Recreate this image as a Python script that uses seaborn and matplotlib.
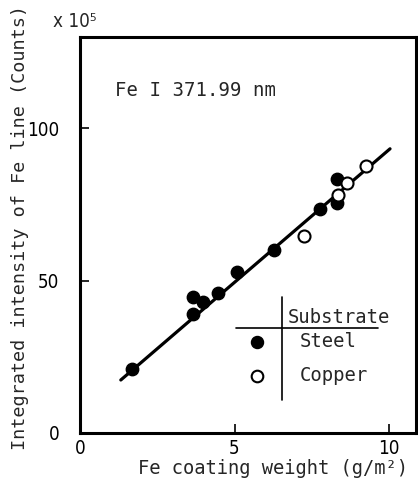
import matplotlib
matplotlib.use("Agg")
import matplotlib.pyplot as plt
import seaborn as sns
import pandas as pd
from matplotlib.font_manager import FontProperties

# ---- data ----
steel_x = [1.67, 3.67, 3.67, 3.97, 4.48, 5.09, 6.26, 7.75, 8.31, 8.31]
steel_y = [20.9, 44.7, 39.2, 43.0, 46.1, 52.9, 60.0, 73.4, 83.5, 75.5]
copper_x = [7.26, 8.36, 8.63, 9.26]
copper_y = [64.6, 78.0, 82.2, 87.5]
fit_x = [1.32, 10.03]
fit_y = [17.4, 93.3]
x_ticks = [0, 5, 10]
y_ticks = [0, 50, 100]
legend_labels = ["Steel", "Copper"]

sns.set_style("ticks")
mono = "DejaVu Sans Mono"
tickfont = FontProperties(family="DejaVu Sans", stretch="condensed", size=13.5)

fig = plt.figure(figsize=(4.18, 4.88), dpi=100)
ax = fig.add_axes([80 / 418, 55 / 488, 336 / 418, 396 / 488])

steel = pd.DataFrame({"x": steel_x, "y": steel_y})
copper = pd.DataFrame({"x": copper_x, "y": copper_y})
fit = pd.DataFrame({"x": fit_x, "y": fit_y})

sns.lineplot(data=fit, x="x", y="y", ax=ax, color="black", lw=2.3, zorder=2)
sns.scatterplot(data=steel, x="x", y="y", ax=ax, s=80, color="black",
                edgecolor="black", linewidth=1.0, zorder=3)
sns.scatterplot(data=copper, x="x", y="y", ax=ax, s=75, facecolor="white",
                edgecolor="black", linewidth=1.5, zorder=3)

ax.set_xlim(0, 10.87)
ax.set_ylim(0, 130)
ax.set_xticks(x_ticks)
ax.set_yticks(y_ticks)
ax.set_xticklabels([str(t) for t in x_ticks], fontproperties=tickfont)
ax.set_yticklabels([str(t) for t in y_ticks], fontproperties=tickfont)
ax.tick_params(axis="x", direction="in", length=6.5, width=1.2, pad=4, colors="black")
ax.tick_params(axis="y", direction="in", length=6.5, width=1.2, pad=15, colors="black")
for s in ax.spines.values():
    s.set_linewidth(2.2)
    s.set_color("black")

ax.set_xlabel("Fe coating weight (g/m²)", fontsize=13.5, family=mono)
ax.set_ylabel("Integrated intensity of Fe line (Counts)", fontsize=13.3, family=mono)
ax.xaxis.set_label_coords(0.574, -0.065)
ax.yaxis.set_label_coords(-0.152, 0.519)

ax.text(-0.08, 1.038, "x 10⁵", transform=ax.transAxes,
        fontproperties=FontProperties(family="DejaVu Sans", stretch="condensed", size=13.5),
        ha="left", va="center")
ax.text(1.13, 112.5, "Fe I 371.99 nm", fontsize=13.7, family=mono,
        ha="left", va="center")

# custom legend
ax.plot([6.53, 6.53], [10.8, 44.6], color="black", lw=1.2)
ax.plot([5.04, 9.64], [34.4, 34.4], color="black", lw=1.2)
ax.text(6.73, 37.9, "Substrate", fontsize=13.6, family=mono, ha="left", va="center")
ax.scatter([5.72], [29.9], s=75, color="black", zorder=3)
ax.scatter([5.72], [18.8], s=70, facecolor="white", edgecolor="black", linewidths=1.5, zorder=3)
ax.text(7.1, 30.0, legend_labels[0], fontsize=13.6, family=mono, ha="left", va="center")
ax.text(7.1, 18.8, legend_labels[1], fontsize=13.6, family=mono, ha="left", va="center")

fig.savefig("out.png", dpi=100)
